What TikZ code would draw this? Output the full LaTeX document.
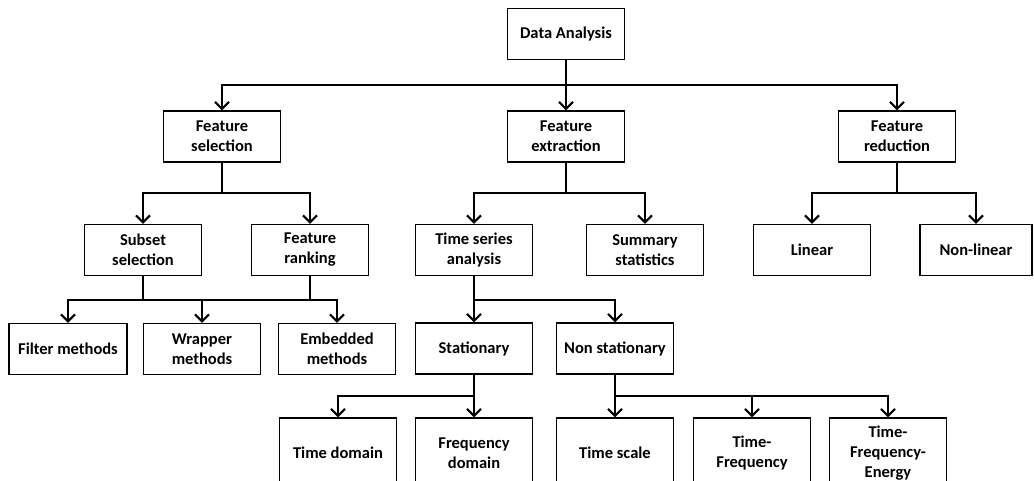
\documentclass[tikz,border=0pt]{standalone}
\usepackage{fontspec}
\setmainfont{Carlito}
\usetikzlibrary{arrows.meta}
\tikzset{
  box/.style={draw, line width=1.1pt, minimum width=117pt, minimum height=51pt, align=center, inner sep=2pt,
    font=\fontsize{16.5}{20}\selectfont\bfseries},
  lowbox/.style={box, minimum height=70pt},
  conn/.style={line width=2.6pt},
  arr/.style={conn, -{Straight Barb[length=7pt,width=14pt,line width=2.2pt]}}
}
\begin{document}
\begin{tikzpicture}[x=1pt,y=-1pt]
\useasboundingbox (0,0) rectangle (1034,481);
\clip (0,0) rectangle (1034,481);
% level 0
\node[box] (da) at (566,34) {Data Analysis};
% level 1
\node[box] (fs) at (222,136.5) {Feature\\selection};
\node[box] (fe) at (566,136.5) {Feature\\extraction};
\node[box] (fr) at (897,136.5) {Feature\\reduction};
% level 2
\node[box] (ss) at (143,250) {Subset\\selection};
\node[box] (frk) at (310,250) {Feature\\ranking};
\node[box] (tsa) at (474,250) {Time series\\analysis};
\node[box] (sum) at (645,250) {Summary\\statistics};
\node[box] (lin) at (812,250) {Linear};
\node[box, minimum width=112pt] (nl) at (976,250) {Non-linear};
% level 3
\node[box, minimum width=118pt] (fm) at (68,349) {Filter methods};
\node[box] (wm) at (202,349) {Wrapper\\methods};
\node[box] (em) at (337,349) {Embedded\\methods};
\node[box] (st) at (474,348.5) {Stationary};
\node[box] (ns) at (615,348.5) {Non stationary};
% level 4
\node[lowbox] (td) at (338,453) {Time domain};
\node[lowbox] (fd) at (474,453) {Frequency\\domain};
\node[lowbox] (tsc) at (615,453) {Time scale};
\node[lowbox] (tf) at (752,453) {Time-\\Frequency};
\node[lowbox] (tfe) at (888,453) {Time-\\Frequency-\\Energy};

% connectors
\foreach \c in {fs,fe,fr} \draw[arr] (da.south) -- (da.south |- 0,85) -| (\c.north);
\foreach \c in {ss,frk} \draw[arr] (fs.south) -- (fs.south |- 0,193) -| (\c.north);
\foreach \c in {tsa,sum} \draw[arr] (fe.south) -- (fe.south |- 0,193) -| (\c.north);
\foreach \c in {lin,nl} \draw[arr] (fr.south) -- (fr.south |- 0,193) -| (\c.north);
\draw[conn] (frk.south) -- (frk.south |- 0,300);
\foreach \c in {fm,wm,em} \draw[arr] (ss.south) -- (ss.south |- 0,300) -| (\c.north);
\foreach \c in {st,ns} \draw[arr] (tsa.south) -- (tsa.south |- 0,300) -| (\c.north);
\foreach \c in {td,fd} \draw[arr] (st.south) -- (st.south |- 0,396) -| (\c.north);
\foreach \c in {tsc,tf,tfe} \draw[arr] (ns.south) -- (ns.south |- 0,396) -| (\c.north);
\end{tikzpicture}
\end{document}
